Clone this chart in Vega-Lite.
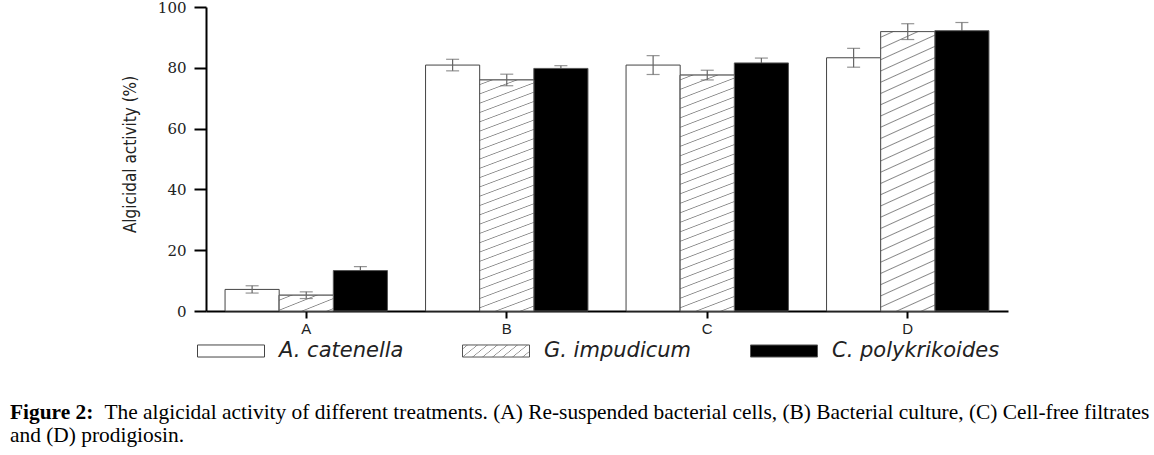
{
  "$schema": "https://vega.github.io/schema/vega-lite/v6.json",
  "width": 802,
  "height": 304,
  "autosize": {"type": "none"},
  "padding": {"left": 206, "top": 7, "right": 146, "bottom": 144},
  "background": "white",
  "config": {
    "view": {"stroke": null},
    "axis": {"grid": false},
    "legend": {
      "orient": "none",
      "legendX": -9,
      "legendY": 310,
      "direction": "horizontal",
      "symbolType": "M-1,-0.18H1V0.18H-1Z",
      "symbolSize": 4489,
      "symbolStrokeWidth": 1,
      "symbolOpacity": 1,
      "labelFont": "DejaVu Sans",
      "labelFontStyle": "italic",
      "labelFontSize": 21,
      "labelColor": "#222",
      "labelOffset": 14,
      "labelLimit": 400,
      "columnPadding": 56,
      "padding": 0
    }
  },
  "title": {
    "text": "Figure 2:",
    "subtitle": "and (D) prodigiosin.",
    "orient": "bottom",
    "anchor": "start",
    "frame": "group",
    "dx": -196,
    "dy": -20,
    "offset": 0,
    "font": "Liberation Serif",
    "fontSize": 21.4,
    "fontWeight": "bold",
    "color": "#000",
    "subtitleFont": "Liberation Serif",
    "subtitleFontSize": 21.4,
    "subtitleFontWeight": "normal",
    "subtitleColor": "#000",
    "subtitlePadding": 1
  },
  "data": {
    "values": [
      {"treatment": "A", "species": "A. catenella", "value": 7.1, "lo": 5.9, "hi": 8.3},
      {"treatment": "A", "species": "G. impudicum", "value": 5.2, "lo": 4.1, "hi": 6.3},
      {"treatment": "A", "species": "C. polykrikoides", "value": 13.3, "lo": 12.0, "hi": 14.6},
      {"treatment": "B", "species": "A. catenella", "value": 80.9, "lo": 79.0, "hi": 82.8},
      {"treatment": "B", "species": "G. impudicum", "value": 76.0, "lo": 74.1, "hi": 77.9},
      {"treatment": "B", "species": "C. polykrikoides", "value": 79.8, "lo": 78.9, "hi": 80.7},
      {"treatment": "C", "species": "A. catenella", "value": 80.9, "lo": 77.8, "hi": 84.0},
      {"treatment": "C", "species": "G. impudicum", "value": 77.6, "lo": 76.0, "hi": 79.2},
      {"treatment": "C", "species": "C. polykrikoides", "value": 81.6, "lo": 80.0, "hi": 83.2},
      {"treatment": "D", "species": "A. catenella", "value": 83.3, "lo": 80.2, "hi": 86.4},
      {"treatment": "D", "species": "G. impudicum", "value": 91.9, "lo": 89.3, "hi": 94.5},
      {"treatment": "D", "species": "C. polykrikoides", "value": 92.2, "lo": 89.5, "hi": 94.9}
    ]
  },
  "encoding": {
    "x": {
      "field": "treatment",
      "type": "nominal",
      "scale": {"paddingInner": 0.19, "paddingOuter": 0.095},
      "axis": {
        "labelAngle": 0,
        "labelFont": "Liberation Sans",
        "labelFontSize": 15,
        "labelColor": "#222",
        "labelPadding": 3,
        "tickSize": 7,
        "tickWidth": 2,
        "tickColor": "#000",
        "domainColor": "#000",
        "domainWidth": 2,
        "title": "The algicidal activity of different treatments. (A) Re-suspended bacterial cells, (B) Bacterial culture, (C) Cell-free filtrates",
        "titleFont": "Liberation Serif",
        "titleFontSize": 21.4,
        "titleFontWeight": "normal",
        "titleColor": "#000",
        "titleX": -102,
        "titleY": 107,
        "titleAnchor": "start",
        "titleAlign": "left",
        "titleBaseline": "alphabetic",
        "titleLimit": 2000
      }
    },
    "xOffset": {
      "field": "species",
      "type": "nominal",
      "scale": {"domain": ["A. catenella", "G. impudicum", "C. polykrikoides"], "paddingInner": 0, "paddingOuter": 0}
    }
  },
  "layer": [
    {
      "transform": [{"filter": "datum.species === 'C. polykrikoides'"}],
      "mark": {"type": "rule", "color": "#666", "strokeWidth": 1.2},
      "encoding": {
        "y": {"field": "lo", "type": "quantitative", "title": "Algicidal activity (%)"},
        "y2": {"field": "hi"}
      }
    },
    {
      "transform": [{"filter": "datum.species === 'C. polykrikoides'"}],
      "mark": {"type": "tick", "color": "#666", "size": 13, "thickness": 1.2},
      "encoding": {
        "y": {"field": "hi", "type": "quantitative", "title": "Algicidal activity (%)"}
      }
    },
    {
      "mark": {"type": "bar", "strokeWidth": 1},
      "encoding": {
        "y": {
          "field": "value",
          "type": "quantitative",
          "title": "Algicidal activity (%)",
          "scale": {"domain": [0, 100]},
          "axis": {
            "title": "Algicidal activity (%)",
            "values": [0, 20, 40, 60, 80, 100],
            "domainColor": "#000",
            "domainWidth": 2,
            "tickColor": "#000",
            "tickWidth": 2,
            "tickSize": 12,
            "labelFont": "DejaVu Serif",
            "labelFontSize": 15,
            "labelColor": "#222",
            "labelPadding": 8,
            "titleFont": "Liberation Sans Narrow, DejaVu Sans Condensed, sans-serif",
            "titleFontSize": 17,
            "titleFontWeight": "normal",
            "titleColor": "#222",
            "titleX": -71,
            "titleY": 147,
            "titleAngle": 270,
            "titleBaseline": "alphabetic",
            "titleAlign": "center"
          }
        },
        "fill": {
          "field": "species",
          "type": "nominal",
          "title": null,
          "scale": {
            "domain": ["A. catenella", "G. impudicum", "C. polykrikoides"],
            "range": [
              "#ffffff",
              {"expr": "{gradient: 'linear', x1: 0, y1: 0, x2: 1.165, y2: 0.2607, stops: [{offset: 0.049, color: '#fff'}, {offset: 0.061, color: '#888'}, {offset: 0.073, color: '#fff'}, {offset: 0.171, color: '#fff'}, {offset: 0.183, color: '#888'}, {offset: 0.195, color: '#fff'}, {offset: 0.293, color: '#fff'}, {offset: 0.305, color: '#888'}, {offset: 0.317, color: '#fff'}, {offset: 0.415, color: '#fff'}, {offset: 0.427, color: '#888'}, {offset: 0.439, color: '#fff'}, {offset: 0.537, color: '#fff'}, {offset: 0.549, color: '#888'}, {offset: 0.561, color: '#fff'}, {offset: 0.659, color: '#fff'}, {offset: 0.671, color: '#888'}, {offset: 0.683, color: '#fff'}, {offset: 0.781, color: '#fff'}, {offset: 0.793, color: '#888'}, {offset: 0.805, color: '#fff'}, {offset: 0.903, color: '#fff'}, {offset: 0.915, color: '#888'}, {offset: 0.927, color: '#fff'}]}"},
              "#000000"
            ]
          }
        },
        "stroke": {
          "field": "species",
          "type": "nominal",
          "title": null,
          "scale": {
            "domain": ["A. catenella", "G. impudicum", "C. polykrikoides"],
            "range": ["#444444", "#555555", "#555555"]
          }
        }
      }
    },
    {
      "transform": [{"filter": "datum.species === 'G. impudicum'"}],
      "mark": {"type": "bar", "stroke": "#555", "strokeWidth": 1},
      "encoding": {
        "y": {"field": "value", "type": "quantitative", "title": "Algicidal activity (%)"},
        "fill": {
          "condition": {
            "test": "datum.treatment === 'A'",
            "value": {"gradient": "linear", "x1": 0, "y1": 0, "x2": 1.1286, "y2": 0.8238, "stops": [
              {"offset": 0.11, "color": "#fff"}, {"offset": 0.134, "color": "#888"}, {"offset": 0.158, "color": "#fff"},
              {"offset": 0.377, "color": "#fff"}, {"offset": 0.401, "color": "#888"}, {"offset": 0.425, "color": "#fff"},
              {"offset": 0.644, "color": "#fff"}, {"offset": 0.668, "color": "#888"}, {"offset": 0.692, "color": "#fff"},
              {"offset": 0.911, "color": "#fff"}, {"offset": 0.935, "color": "#888"}, {"offset": 0.959, "color": "#fff"}
            ]}
          },
          "value": {"gradient": "linear", "x1": 0, "y1": 0, "x2": 0.095, "y2": 1.0796, "stops": [
            {"offset": 0.015, "color": "#fff"}, {"offset": 0.0185, "color": "#888"}, {"offset": 0.022, "color": "#fff"},
            {"offset": 0.052, "color": "#fff"}, {"offset": 0.0555, "color": "#888"}, {"offset": 0.059, "color": "#fff"},
            {"offset": 0.089, "color": "#fff"}, {"offset": 0.0925, "color": "#888"}, {"offset": 0.096, "color": "#fff"},
            {"offset": 0.126, "color": "#fff"}, {"offset": 0.1295, "color": "#888"}, {"offset": 0.133, "color": "#fff"},
            {"offset": 0.163, "color": "#fff"}, {"offset": 0.1665, "color": "#888"}, {"offset": 0.17, "color": "#fff"},
            {"offset": 0.2, "color": "#fff"}, {"offset": 0.2035, "color": "#888"}, {"offset": 0.207, "color": "#fff"},
            {"offset": 0.237, "color": "#fff"}, {"offset": 0.2405, "color": "#888"}, {"offset": 0.244, "color": "#fff"},
            {"offset": 0.274, "color": "#fff"}, {"offset": 0.2775, "color": "#888"}, {"offset": 0.281, "color": "#fff"},
            {"offset": 0.311, "color": "#fff"}, {"offset": 0.3145, "color": "#888"}, {"offset": 0.318, "color": "#fff"},
            {"offset": 0.348, "color": "#fff"}, {"offset": 0.3515, "color": "#888"}, {"offset": 0.355, "color": "#fff"},
            {"offset": 0.385, "color": "#fff"}, {"offset": 0.3885, "color": "#888"}, {"offset": 0.392, "color": "#fff"},
            {"offset": 0.422, "color": "#fff"}, {"offset": 0.4255, "color": "#888"}, {"offset": 0.429, "color": "#fff"},
            {"offset": 0.459, "color": "#fff"}, {"offset": 0.4625, "color": "#888"}, {"offset": 0.466, "color": "#fff"},
            {"offset": 0.496, "color": "#fff"}, {"offset": 0.4995, "color": "#888"}, {"offset": 0.503, "color": "#fff"},
            {"offset": 0.533, "color": "#fff"}, {"offset": 0.5365, "color": "#888"}, {"offset": 0.54, "color": "#fff"},
            {"offset": 0.57, "color": "#fff"}, {"offset": 0.5735, "color": "#888"}, {"offset": 0.577, "color": "#fff"},
            {"offset": 0.607, "color": "#fff"}, {"offset": 0.6105, "color": "#888"}, {"offset": 0.614, "color": "#fff"},
            {"offset": 0.644, "color": "#fff"}, {"offset": 0.6475, "color": "#888"}, {"offset": 0.651, "color": "#fff"},
            {"offset": 0.681, "color": "#fff"}, {"offset": 0.6845, "color": "#888"}, {"offset": 0.688, "color": "#fff"},
            {"offset": 0.718, "color": "#fff"}, {"offset": 0.7215, "color": "#888"}, {"offset": 0.725, "color": "#fff"},
            {"offset": 0.755, "color": "#fff"}, {"offset": 0.7585, "color": "#888"}, {"offset": 0.762, "color": "#fff"},
            {"offset": 0.792, "color": "#fff"}, {"offset": 0.7955, "color": "#888"}, {"offset": 0.799, "color": "#fff"},
            {"offset": 0.829, "color": "#fff"}, {"offset": 0.8325, "color": "#888"}, {"offset": 0.836, "color": "#fff"},
            {"offset": 0.866, "color": "#fff"}, {"offset": 0.8695, "color": "#888"}, {"offset": 0.873, "color": "#fff"},
            {"offset": 0.903, "color": "#fff"}, {"offset": 0.9065, "color": "#888"}, {"offset": 0.91, "color": "#fff"},
            {"offset": 0.94, "color": "#fff"}, {"offset": 0.9435, "color": "#888"}, {"offset": 0.947, "color": "#fff"},
            {"offset": 0.977, "color": "#fff"}, {"offset": 0.9805, "color": "#888"}, {"offset": 0.984, "color": "#fff"}
          ]}
        }
      }
    },
    {
      "transform": [{"filter": "datum.species !== 'C. polykrikoides'"}],
      "mark": {"type": "rule", "color": "#666", "strokeWidth": 1.2},
      "encoding": {
        "y": {"field": "lo", "type": "quantitative", "title": "Algicidal activity (%)"},
        "y2": {"field": "hi"}
      }
    },
    {
      "transform": [{"filter": "datum.species !== 'C. polykrikoides'"}],
      "mark": {"type": "tick", "color": "#666", "size": 13, "thickness": 1.2},
      "encoding": {
        "y": {"field": "hi", "type": "quantitative", "title": "Algicidal activity (%)"}
      }
    },
    {
      "transform": [{"filter": "datum.species !== 'C. polykrikoides'"}],
      "mark": {"type": "tick", "color": "#666", "size": 13, "thickness": 1.2},
      "encoding": {
        "y": {"field": "lo", "type": "quantitative", "title": "Algicidal activity (%)"}
      }
    }
  ]
}
